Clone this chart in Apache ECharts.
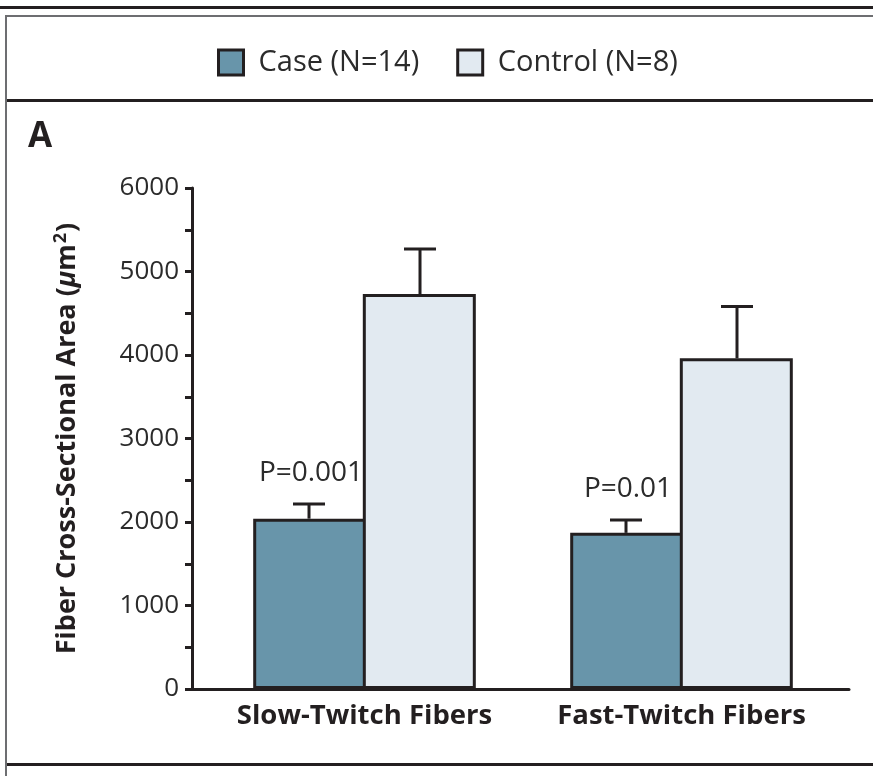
<!DOCTYPE html>
<html>
<head>
<meta charset="utf-8">
<script src="https://cdn.jsdelivr.net/npm/echarts@6/dist/echarts.min.js"></script>
<style>
html,body{margin:0;padding:0;background:#fff;}
#chart{width:873px;height:776px;}
</style>
</head>
<body>
<div id="chart"></div>
<script>
// ---- data ----
const categories = ['Slow-Twitch Fibers', 'Fast-Twitch Fibers'];
const categoryPos = [1, 2];
const seriesNames = ['Case (N=14)', 'Control (N=8)'];
const caseMean = [2040, 1870];
const caseUpper = [2215, 2025];
const controlMean = [4730, 3960];
const controlUpper = [5270, 4580];
const pValues = ['P=0.001', 'P=0.01'];
const yTicks = [0, 1000, 2000, 3000, 4000, 5000, 6000];

// ---- style ----
const FONT = '"Open Sans", "DejaVu Sans", sans-serif';
const INK = '#231f20';
const TXT = '#2b2b2b';
const CASE_COLOR = '#6895aa';
const CONTROL_COLOR = '#e2eaf1';
const BAR_W = 113;
const BAR_GAP = '-3%';
const CAP_W = 32;
const X_MIN = 0.4558, X_MAX = 2.5284;

const chart = echarts.init(document.getElementById('chart'), null, {renderer: 'canvas'});

function pairs(vals) { return vals.map((v, i) => [categoryPos[i], v]); }

function errorSeries(name, means, uppers, sign, labels) {
  return {
    type: 'custom',
    name: name + ' err',
    z: 5,
    silent: true,
    data: means.map((m, i) => [categoryPos[i], uppers[i], m, i]),
    encode: {x: 0, y: 1},
    renderItem: function (params, api) {
      const xv = api.value(0);
      const top = api.coord([xv, api.value(1)]);
      const base = api.coord([xv, api.value(2)]);
      const x = top[0] + sign * 111 / 2;
      const children = [
        {type: 'line', shape: {x1: x, y1: base[1], x2: x, y2: top[1]}, style: {stroke: INK, lineWidth: 3}},
        {type: 'line', shape: {x1: x - CAP_W / 2, y1: top[1], x2: x + CAP_W / 2, y2: top[1]}, style: {stroke: INK, lineWidth: 3}}
      ];
      if (labels) {
        children.push({type: 'text', style: {text: labels[api.value(3)], x: x + 2, y: top[1] - 17, align: 'center', verticalAlign: 'bottom', font: '28px ' + FONT, fill: TXT}});
      }
      return {type: 'group', children: children};
    }
  };
}

const option = {
  backgroundColor: '#fff',
  animation: false,
  graphic: [
    {type: 'rect', shape: {x: 0, y: 6, width: 873, height: 3}, style: {fill: INK}},
    {type: 'rect', shape: {x: 5, y: 15, width: 868, height: 2}, style: {fill: '#6d6e71'}},
    {type: 'rect', shape: {x: 5, y: 15, width: 2, height: 761}, style: {fill: '#6d6e71'}},
    {type: 'rect', shape: {x: 7, y: 99, width: 866, height: 3}, style: {fill: INK}},
    {type: 'rect', shape: {x: 7, y: 763, width: 866, height: 3}, style: {fill: INK}},
    {type: 'text', style: {text: 'A', x: 28, y: 137, verticalAlign: 'middle', font: 'bold 35px ' + FONT, fill: INK}}
  ],
  legend: {
    top: 48,
    left: 217,
    padding: 0,
    itemWidth: 25,
    itemHeight: 25,
    itemGap: 37,
    icon: 'rect',
    data: [
      {name: seriesNames[0], itemStyle: {color: CASE_COLOR, borderColor: INK, borderWidth: 3}},
      {name: seriesNames[1], itemStyle: {color: CONTROL_COLOR, borderColor: INK, borderWidth: 3}}
    ],
    textStyle: {fontFamily: FONT, fontSize: 29, color: TXT, padding: [0, 0, 0, 10]}
  },
  grid: {left: 192, right: 24, top: 188, bottom: 87, containLabel: false},
  xAxis: {
    type: 'value',
    min: X_MIN,
    max: X_MAX,
    axisLine: {show: true, lineStyle: {color: INK, width: 3}},
    axisTick: {show: false},
    splitLine: {show: false},
    axisLabel: {
      customValues: categoryPos,
      fontFamily: FONT, fontSize: 27.5, fontWeight: 'bold', color: INK, margin: 13,
      formatter: function (v) { const i = categoryPos.indexOf(v); return i >= 0 ? categories[i] : ''; }
    }
  },
  yAxis: {
    type: 'value',
    min: 0,
    max: 6000,
    interval: 1000,
    name: '{b|Fiber Cross-Sectional Area (}{i|μ}{b|m}{s|2}{b|)}',
    nameLocation: 'middle',
    nameGap: 110,
    nameRotate: 90,
    nameTextStyle: {
      rich: {
        b: {fontFamily: FONT, fontSize: 27, fontWeight: 'bold', color: INK},
        i: {fontFamily: FONT, fontSize: 27, fontWeight: 'bold', fontStyle: 'italic', color: INK},
        s: {fontFamily: FONT, fontSize: 18, fontWeight: 'bold', color: INK, verticalAlign: 'top', padding: [0, 1, 12, 1]}
      }
    },
    axisLine: {show: true, lineStyle: {color: INK, width: 3}},
    axisTick: {show: true, length: 7, lineStyle: {color: INK, width: 3}},
    minorTick: {show: true, splitNumber: 2, length: 7, lineStyle: {color: INK, width: 3}},
    splitLine: {show: false},
    axisLabel: {fontFamily: FONT, fontSize: 26, color: TXT, margin: 13,
      formatter: function (v) { return yTicks.indexOf(v) >= 0 ? String(v) : ''; }}
  },
  series: [
    {
      type: 'bar', name: seriesNames[0], data: pairs(caseMean), barWidth: BAR_W, barGap: BAR_GAP,
      itemStyle: {color: CASE_COLOR, borderColor: INK, borderWidth: 3}
    },
    {
      type: 'bar', name: seriesNames[1], data: pairs(controlMean), barWidth: BAR_W, barGap: BAR_GAP,
      itemStyle: {color: CONTROL_COLOR, borderColor: INK, borderWidth: 3}
    },
    errorSeries(seriesNames[0], caseMean, caseUpper, -1, pValues),
    errorSeries(seriesNames[1], controlMean, controlUpper, 1, null)
  ]
};
chart.setOption(option);
</script>
</body>
</html>
